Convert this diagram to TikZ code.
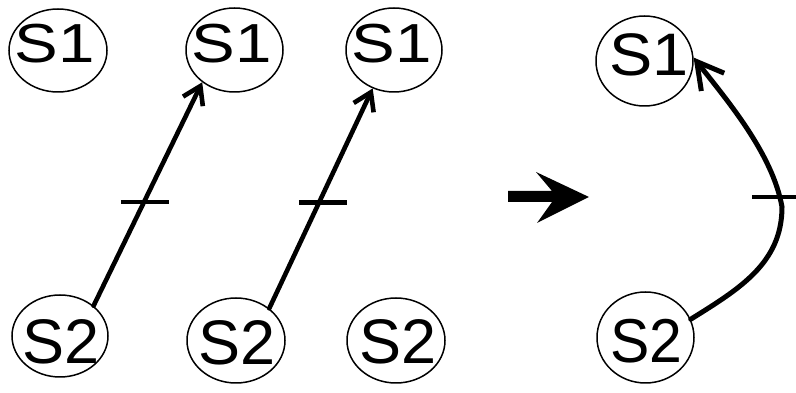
\documentclass[tikz,border=0pt]{standalone}
\usepackage{fontspec}
\setmainfont{Liberation Sans}
\usepackage{graphicx}
\usetikzlibrary{arrows.meta,shapes.geometric}
\begin{document}
\begin{tikzpicture}[x=1pt,y=1pt,
  state/.style={ellipse, draw=black, line width=1.5pt, fill=white, inner sep=0pt},
  lbl/.style={inner sep=0pt, anchor=base},
  smalllbl/.style={lbl, font=\fontsize{55}{60}\selectfont},
  biglbl/.style={lbl, font=\fontsize{63}{68}\selectfont},
  edge/.style={line width=4.6pt, line cap=round, -{Straight Barb[length=17pt,width=22pt]}},
  curveedge/.style={line width=5pt, line cap=round, -{Straight Barb[length=26pt,width=29pt]}},
  tickbar/.style={line width=4.6pt},
]
\useasboundingbox (0,0) rectangle (796,393);

% top row of S1 states
\node[state, minimum width=98pt, minimum height=83pt] (s1a) at (58,342.5) {};
\node[smalllbl] (s1a-t) at (55,330) {\scalebox{1.19}[1]{S1}};
\node[state, minimum width=97pt, minimum height=84pt] (s1b) at (234.5,343) {};
\node[smalllbl] (s1b-t) at (232,330) {\scalebox{1.19}[1]{S1}};
\node[state, minimum width=96pt, minimum height=84pt] (s1c) at (394,343) {};
\node[smalllbl] (s1c-t) at (392,330) {\scalebox{1.19}[1]{S1}};

% bottom row of S2 states
\node[state, minimum width=96pt, minimum height=82pt] (s2a) at (60,57) {};
\node[biglbl] (s2a-t) at (61.5,29) {S2};
\node[state, minimum width=98pt, minimum height=85pt] (s2b) at (236,52.5) {};
\node[biglbl] (s2b-t) at (237.5,28.5) {S2};
\node[state, minimum width=98pt, minimum height=85pt] (s2c) at (396,52.5) {};
\node[biglbl] (s2c-t) at (398.5,29) {S2};

% merged pair on the right
\node[state, minimum width=97pt, minimum height=90pt] (s1r) at (644.5,332) {};
\node[lbl, font=\fontsize{60}{65}\selectfont] (s1r-t) at (649,317) {\scalebox{1.08}[1]{S1}};
\node[state, minimum width=97pt, minimum height=91pt] (s2r) at (645.5,55.5) {};
\node[lbl, font=\fontsize{62}{67}\selectfont] (s2r-t) at (646.5,30) {\scalebox{0.95}[1]{S2}};

% delayed transitions with tick marks
\draw[edge] (s2a.42) -- coordinate[pos=0.464] (m1) (s1b.225);
\draw[tickbar] ([xshift=-23pt]m1) -- ([xshift=25pt]m1);
\draw[edge] (s2b.44) -- coordinate[pos=0.48] (m2) (s1c.241);
\draw[tickbar] ([xshift=-20pt]m2) -- ([xshift=28pt]m2);

% combined transition
\coordinate (m3) at (782,186);
\draw[curveedge] (s2r.22) to[out=32,in=-90] (m3) to[out=100,in=-52,looseness=0.8] (s1r.4);
\draw[tickbar] ([shift={(-30pt,10pt)}]m3) -- ([shift={(14pt,10pt)}]m3);

% big block arrow between the two halves
\fill[black] (508,202) -- (552,202) -- (536,221) -- (589,196) -- (537,170) -- (552,191) -- (508,191) -- cycle;
\end{tikzpicture}
\end{document}
